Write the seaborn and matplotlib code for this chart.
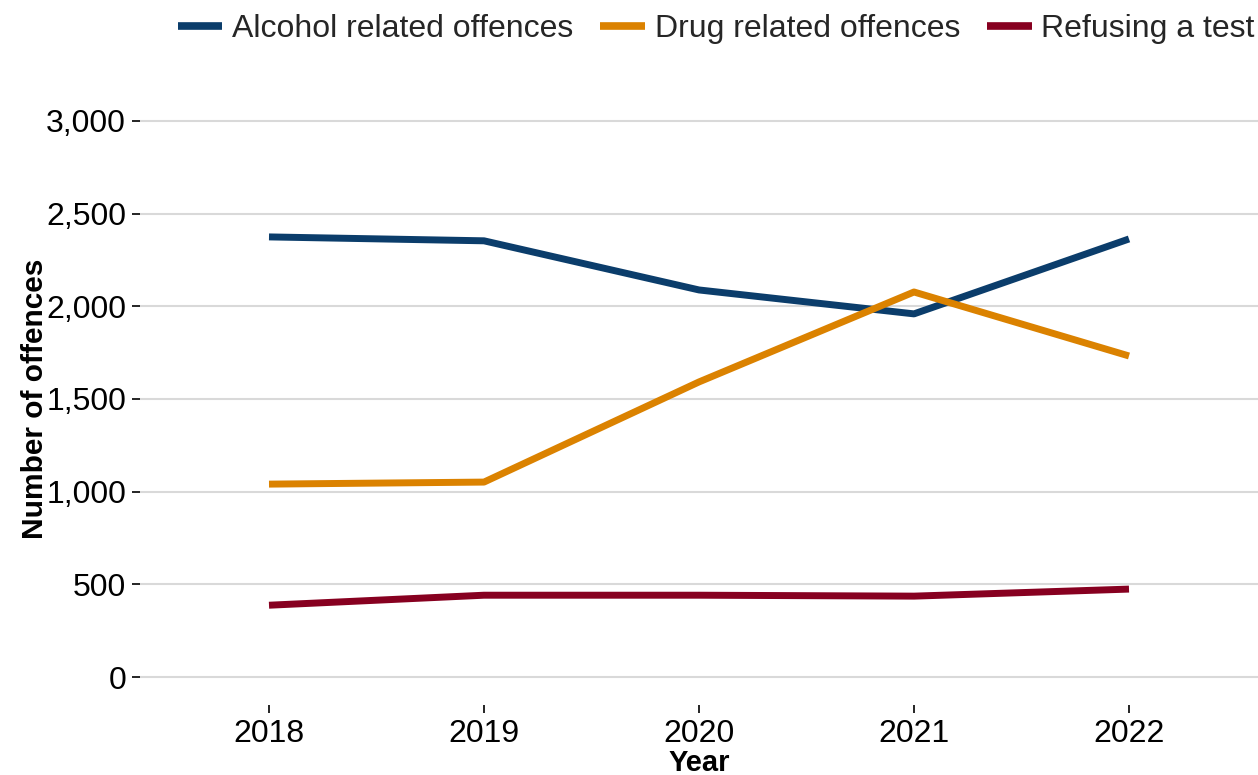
import matplotlib
matplotlib.use("Agg")
import matplotlib.pyplot as plt
import seaborn as sns
import pandas as pd
from matplotlib.ticker import FuncFormatter

years = [2018, 2019, 2020, 2021, 2022]
alcohol = [2374, 2353, 2088, 1959, 2363]
drug = [1041, 1052, 1592, 2077, 1732]
refusing = [388, 442, 442, 437, 475]
series_names = ["Alcohol related offences", "Drug related offences", "Refusing a test"]
colors = ["#0B3D6B", "#DB8200", "#870020"]
y_ticks = [0, 500, 1000, 1500, 2000, 2500, 3000]

rows = []
for name, vals in zip(series_names, [alcohol, drug, refusing]):
    for y, v in zip(years, vals):
        rows.append({"Year": y, "Offences": v, "Series": name})
df = pd.DataFrame(rows)

sns.set_theme(style="white")
plt.rcParams['font.family'] = ['Liberation Sans', 'DejaVu Sans']

fig = plt.figure(figsize=(12.58, 7.75), dpi=100)
ax = fig.add_axes([140/1258, 1-705/775, 1-140/1258, (705-93)/775])

sns.lineplot(data=df, x="Year", y="Offences", hue="Series", hue_order=series_names,
             palette=colors, linewidth=5, ax=ax, legend=True)
for ln in ax.get_lines():
    ln.set_solid_capstyle("butt")
    ln.set_solid_joinstyle("round")

ax.set_xlim(2017.4, 2022.6)
ax.set_ylim(-150, 3150)
ax.set_xticks(years)
ax.set_xticklabels([str(y) for y in years])
ax.set_yticks(y_ticks)
ax.yaxis.set_major_formatter(FuncFormatter(lambda v, p: f"{int(v):,}"))
ax.grid(axis="y", color="#d9d9d9", linewidth=1.5)
ax.grid(axis="x", visible=False)
ax.set_axisbelow(True)
for s in ax.spines.values():
    s.set_visible(False)
ax.tick_params(axis="both", which="both", length=6, width=1.2, color="black",
               labelsize=23, labelcolor="black", left=True, bottom=True, pad=4)

ax.set_xlabel("Year", fontsize=21, fontweight="bold", color="black", labelpad=0)
ax.set_ylabel("Number of offences", fontsize=21.5, fontweight="bold", color="black", labelpad=-2)

handles, labels = ax.get_legend_handles_labels()
ax.get_legend().remove()
for h in handles:
    h.set_linewidth(5.5)
    h.set_solid_capstyle("butt")
fig.legend(handles, labels, loc="center right", bbox_to_anchor=(1.0, 1-29/775),
           ncol=3, frameon=False, fontsize=23, handlelength=1.4, handletextpad=0.3,
           columnspacing=0.85, borderaxespad=0.0, borderpad=0.1)

fig.savefig("out.png", dpi=100)
